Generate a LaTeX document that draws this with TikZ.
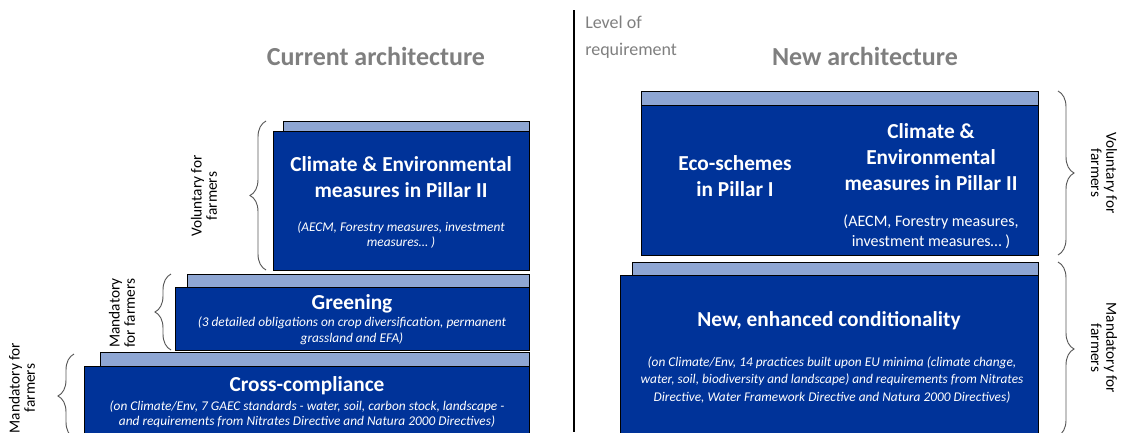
\documentclass[tikz,border=0pt]{standalone}
\usepackage{fontspec}
\setmainfont{Carlito}
\usepackage{xcolor}
\usetikzlibrary{decorations.pathreplacing,fit}

\definecolor{eublue}{HTML}{003399}
\definecolor{stripblue}{HTML}{8EA6D3}
\definecolor{titlegray}{HTML}{7F7F7F}
\definecolor{bracegray}{HTML}{595959}

\begin{document}
\begin{tikzpicture}[
	x=0.75pt, y=-0.75pt,
	box/.style={draw=black, line width=0.6pt, fill=eublue, inner sep=0pt},
	strip/.style={draw=black, line width=0.6pt, fill=stripblue, inner sep=0pt},
	head/.style={text=white, font=\fontsize{16}{19.5}\selectfont\bfseries, align=center},
	note/.style={text=white, font=\fontsize{10}{11}\selectfont\itshape, align=center},
	side/.style={font=\fontsize{11.5}{11.5}\selectfont, align=center},
	brc/.style={draw=bracegray, line width=0.7pt, decorate, decoration={brace, amplitude=12pt}},
	title/.style={text=titlegray, font=\fontsize{19.5}{23}\selectfont\bfseries}
	]
	\useasboundingbox (0,0) rectangle (1123,432);

	\node[title] (curT) at (376,56) {Current architecture};
	\node[title] (newT) at (865,56) {New architecture};
	\node[text=titlegray, anchor=north west, align=left, inner sep=0pt,
		font=\fontsize{13.5}{20}\selectfont] (lvl) at (585,16) {Level of\\requirement};
	\coordinate (sepT) at (574,10);
	\coordinate (sepB) at (574,432);
	\draw[line width=0.8pt] (sepT) -- (sepB);

	\node[strip, fit={(283,121) (529,131)}] (climLs) {};
	\node[box, fit={(273,131) (529,270)}] (climL) {};
	\node[strip, fit={(187,274) (529,287)}] (greenS) {};
	\node[box, fit={(175,287) (529,350)}] (green) {};
	\node[strip, fit={(100,352) (529,366)}] (crossS) {};
	\node[box, fit={(84,366) (529,445)}] (cross) {};

	\node[strip, fit={(641,91) (1038,105)}] (ecoS) {};
	\node[box, fit={(641,105) (1038,255)}] (eco) {};
	\node[strip, fit={(632,262) (1038,275)}] (condS) {};
	\node[box, fit={(620,275) (1038,445)}] (cond) {};

	\node[head] (climLt) at (401,177) {Climate \& Environmental\\measures in Pillar II};
	\node[note] (climLn) at (401,235) {(AECM, Forestry measures, investment\\measures… )};
	\node[head] (greenT) at (352,304) {Greening};
	\node[note, font=\fontsize{10}{12}\selectfont\itshape] (greenN) at (352,331) {(3 detailed obligations on crop diversification, permanent\\grassland and EFA)};
	\node[head] (crossT) at (307,386) {Cross-compliance};
	\node[note] (crossN) at (307,414) {(on Climate/Env, 7 GAEC standards - water, soil, carbon stock, landscape -\\and requirements from Nitrates Directive and Natura 2000 Directives)};

	\node[head] (ecoT) at (735,176) {Eco-schemes\\in Pillar I};
	\node[head] (climRt) at (931,157) {Climate \&\\Environmental\\measures in Pillar II};
	\node[note, font=\fontsize{12}{15}\selectfont] (climRn) at (931,232) {(AECM, Forestry measures,\\investment measures… )};
	\node[head] (condT) at (829,321) {New, enhanced conditionality};
	\node[note, font=\fontsize{10}{13}\selectfont\itshape] (condN) at (832,380) {(on Climate/Env, 14 practices built upon EU minima (climate change,\\water, soil, biodiversity and landscape) and requirements from Nitrates\\Directive, Water Framework Directive and Natura 2000 Directives)};

	\coordinate (bLa) at (266,270);
	\coordinate (bLb) at (266,121);
	\coordinate (bGa) at (171,350);
	\coordinate (bGb) at (171,274);
	\coordinate (bCa) at (74,438);
	\coordinate (bCb) at (74,354);
	\coordinate (bRa) at (1058,91);
	\coordinate (bRb) at (1058,255);
	\coordinate (bMa) at (1058,262);
	\coordinate (bMb) at (1058,436);
	\draw[brc] (bLa) -- (bLb);
	\draw[brc] (bGa) -- (bGb);
	\draw[brc] (bCa) -- (bCb);
	\draw[brc] (bRa) -- (bRb);
	\draw[brc] (bMa) -- (bMb);

	\node[side, rotate=90] (volL) at (204,196) {Voluntary for\\farmers};
	\node[side, rotate=90] (manG) at (122,313) {Mandatory\\for farmers};
	\node[side, rotate=90] (manC) at (22,388) {Mandatory for\\farmers};
	\node[side, rotate=-90] (volR) at (1104,173) {Voluntary for\\farmers};
	\node[side, rotate=-90] (manR) at (1104,348) {Mandatory for\\farmers};
\end{tikzpicture}
\end{document}
